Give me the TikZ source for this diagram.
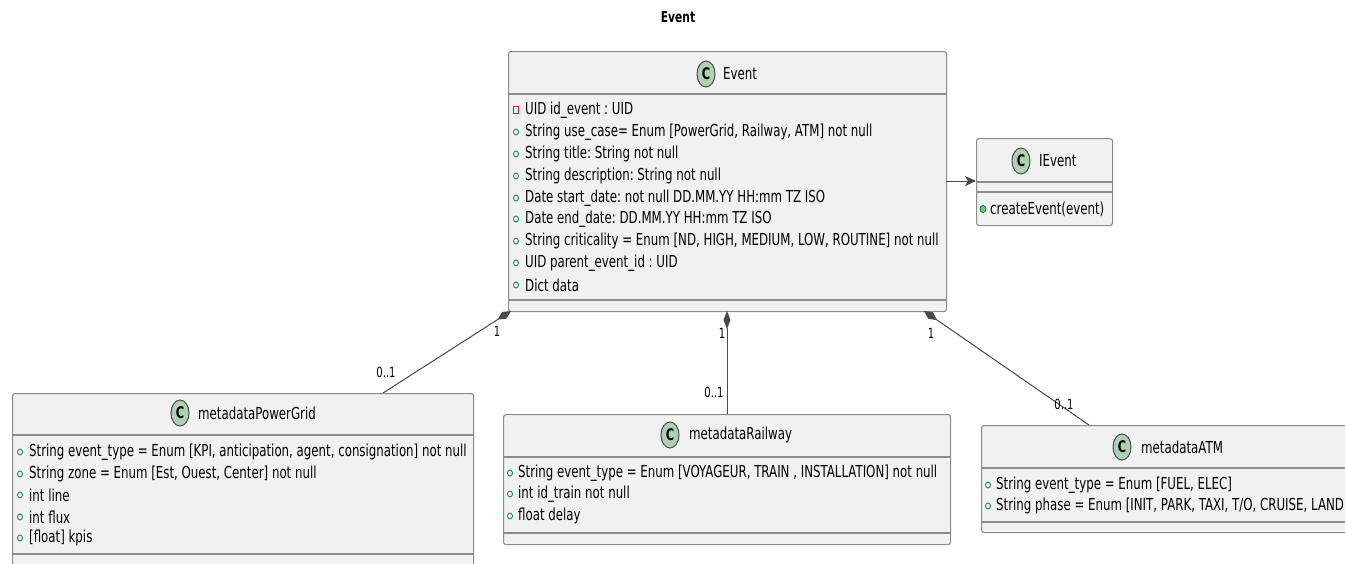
\documentclass[tikz,border=0pt]{standalone}
\usepackage{fontspec}
\setmainfont{DejaVu Sans}
\newfontfamily\umlfont[FakeStretch=0.715]{DejaVu Sans}
\usetikzlibrary{arrows.meta,calc,shapes.geometric}
\definecolor{boxfill}{HTML}{F1F1F1}
\definecolor{boxline}{HTML}{8C8C8C}
\definecolor{circfill}{HTML}{ADD1B2}
\definecolor{pubgreen}{HTML}{038048}
\definecolor{privred}{HTML}{C82930}
\definecolor{methfill}{HTML}{84BE84}
\definecolor{linkcol}{HTML}{4A4A4A}
\tikzset{
  classbox/.style={draw=boxline, fill=boxfill, line width=1.1pt, rounded corners=2.5pt, inner sep=0pt, anchor=north west},
  divider/.style={draw=boxline, line width=1.1pt},
  ctext/.style={font=\umlfont\fontsize{16.5}{20}\selectfont, inner sep=0pt, anchor=west, text=black},
  htext/.style={font=\umlfont\fontsize{16.5}{20}\selectfont, inner sep=0pt, anchor=west, text=black},
  badge/.style={ellipse, draw=linkcol, line width=1pt, fill=circfill, minimum width=18pt, minimum height=26pt, inner sep=0pt, font=\umlfont\bfseries\fontsize{16}{18}\selectfont},
  pubicon/.style={ellipse, draw=pubgreen, line width=0.8pt, minimum width=5pt, minimum height=6pt, inner sep=0pt},
  privicon/.style={rectangle, draw=privred, line width=0.8pt, minimum width=5pt, minimum height=7pt, inner sep=0pt},
  methicon/.style={ellipse, draw=pubgreen, fill=methfill, line width=0.8pt, minimum width=6pt, minimum height=7pt, inner sep=0pt},
  link/.style={draw=linkcol, line width=1pt},
  mult/.style={font=\umlfont\fontsize{14}{16}\selectfont, inner sep=0pt, text=black},
}
\begin{document}
\frenchspacing
\begin{tikzpicture}[x=1pt,y=-1pt]
\useasboundingbox (0,0) rectangle (1345,563);
\clip (0,0) rectangle (1345,563);
\fill[white] (0,0) rectangle (1345,563);

\node[font=\umlfont\bfseries\fontsize{15}{18}\selectfont, inner sep=0pt] (title) at (678,17) {Event};

% ---------- Event ----------
\node[classbox, minimum width=438pt, minimum height=260pt] (event) at (508,51) {};
\draw[divider] (508,94) -- (946,94);
\draw[divider] (508,300) -- (946,300);
\node[badge] (eventC) at (706,74) {C};
\node[htext] (eventN) at (723,74) {Event};
\node[privicon] (ei1) at (516,110) {};
\node[ctext] (ea1) at (525,110) {UID id\_event : UID};
\node[pubicon] (ei2) at (516,132) {};
\node[ctext] (ea2) at (525,132) {String use\_case= Enum [PowerGrid, Railway, ATM] not null};
\node[pubicon] (ei3) at (516,154) {};
\node[ctext] (ea3) at (525,154) {String title: String not null};
\node[pubicon] (ei4) at (516,176) {};
\node[ctext] (ea4) at (525,176) {String description: String not null};
\node[pubicon] (ei5) at (516,198) {};
\node[ctext] (ea5) at (525,198) {Date start\_date: not null DD.MM.YY HH:mm TZ ISO};
\node[pubicon] (ei6) at (516,219) {};
\node[ctext] (ea6) at (525,219) {Date end\_date: DD.MM.YY HH:mm TZ ISO};
\node[pubicon] (ei7) at (516,241) {};
\node[ctext] (ea7) at (525,241) {String criticality = Enum [ND, HIGH, MEDIUM, LOW, ROUTINE] not null};
\node[pubicon] (ei8) at (516,263) {};
\node[ctext] (ea8) at (525,263) {UID parent\_event\_id : UID};
\node[pubicon] (ei9) at (516,285) {};
\node[ctext] (ea9) at (525,285) {Dict data};

% ---------- IEvent ----------
\node[classbox, minimum width=136pt, minimum height=87pt] (ievent) at (976,138) {};
\draw[divider] (976,182) -- (1112,182);
\draw[divider] (976,192) -- (1112,192);
\node[badge] (ieventC) at (1021,161) {C};
\node[htext] (ieventN) at (1039,161) {IEvent};
\node[methicon] (im1) at (983,209) {};
\node[ctext] (imt1) at (990,209) {createEvent(event)};

% ---------- metadataPowerGrid ----------
\node[classbox, minimum width=461pt, minimum height=180pt] (pg) at (12,393) {};
\draw[divider] (12,435) -- (473,435);
\draw[divider] (12,554) -- (473,554);
\node[badge] (pgC) at (180,413) {C};
\node[htext] (pgN) at (198,413) {metadataPowerGrid};
\node[pubicon] (pi1) at (20,452) {};
\node[ctext] (pa1) at (29,452) {String event\_type = Enum [KPI, anticipation, agent, consignation] not null};
\node[pubicon] (pi2) at (20,474) {};
\node[ctext] (pa2) at (29,474) {String zone = Enum [Est, Ouest, Center] not null};
\node[pubicon] (pi3) at (20,495) {};
\node[ctext] (pa3) at (29,495) {int line};
\node[pubicon] (pi4) at (20,517) {};
\node[ctext] (pa4) at (29,517) {int flux};
\node[pubicon] (pi5) at (20,538) {};
\node[ctext] (pa5) at (29,538) {[float] kpis};

% ---------- metadataRailway ----------
\node[classbox, minimum width=447pt, minimum height=130pt] (rail) at (503,414) {};
\draw[divider] (503,457) -- (950,457);
\draw[divider] (503,533) -- (950,533);
\node[badge] (railC) at (670,435) {C};
\node[htext] (railN) at (689,435) {metadataRailway};
\node[pubicon] (ri1) at (510,473) {};
\node[ctext] (ra1) at (518,473) {String event\_type = Enum [VOYAGEUR, TRAIN , INSTALLATION] not null};
\node[pubicon] (ri2) at (510,494) {};
\node[ctext] (ra2) at (518,494) {int id\_train not null};
\node[pubicon] (ri3) at (510,516) {};
\node[ctext] (ra3) at (518,516) {float delay};

% ---------- metadataATM ----------
\node[classbox, minimum width=374pt, minimum height=107pt] (atm) at (981,425) {};
\draw[divider] (981,468) -- (1355,468);
\draw[divider] (981,522) -- (1355,522);
\node[badge] (atmC) at (1122,447) {C};
\node[htext] (atmN) at (1141,447) {metadataATM};
\node[pubicon] (ai1) at (988,485) {};
\node[ctext] (aa1) at (996,485) {String event\_type = Enum [FUEL, ELEC]};
\node[pubicon] (ai2) at (988,506) {};
\node[ctext] (aa2) at (996,506) {String phase = Enum [INIT, PARK, TAXI, T/O, CRUISE, LAND};

% ---------- connectors ----------
\coordinate (ePG) at (511,311);
\coordinate (pgT) at (383,393);
\coordinate (eRail) at (727,311);
\coordinate (railT) at (727,414);
\coordinate (eATM) at (924,311);
\coordinate (atmT) at (1089,425);
\coordinate (eIE) at (946,181);
\coordinate (ieL) at (976,181);

\draw[link, {Diamond[length=16pt,width=8pt]}-] (ePG) -- (pgT);
\draw[link, {Diamond[length=18pt,width=7pt]}-] (eRail) -- (railT);
\draw[link, {Diamond[length=16pt,width=8pt]}-] (eATM) -- (atmT);
\draw[link, -{Stealth[length=11pt,width=10pt,inset=3pt]}] (eIE) -- (ieL);

\node[mult] (m1) at (497,331) {1};
\node[mult] (m2) at (386,372) {0..1};
\node[mult] (m3) at (722,333) {1};
\node[mult] (m4) at (714,392) {0..1};
\node[mult] (m5) at (931,333) {1};
\node[mult] (m6) at (1064,404) {0..1};
\end{tikzpicture}
\end{document}
